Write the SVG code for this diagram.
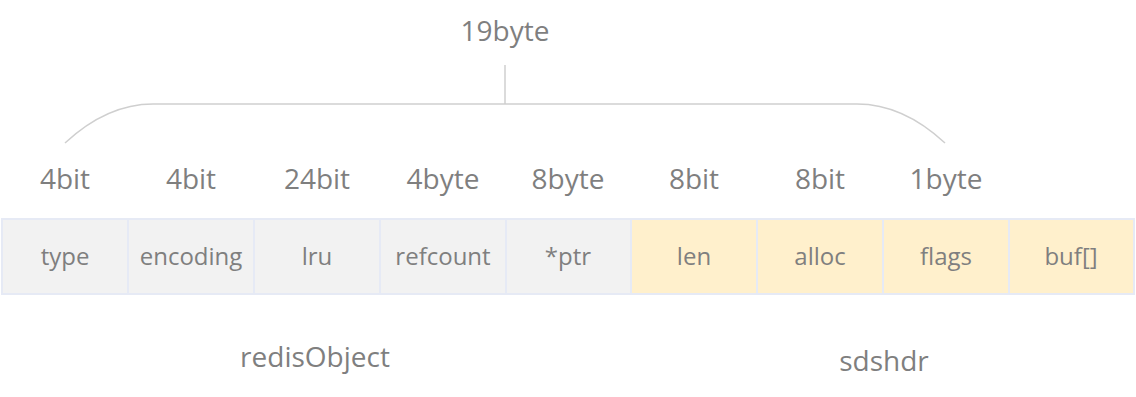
<svg xmlns="http://www.w3.org/2000/svg" width="1136" height="397" viewBox="0 0 1136 397">
  <style>
    text { font-family: "Open Sans", "Liberation Sans", sans-serif; fill: #7f7f7f; text-anchor: middle; }
    .cell-label { font-size: 24px; }
    .size { font-size: 28px; }
    .title { font-size: 28px; }
    .cell rect { stroke: #e6eaf5; stroke-width: 2; }
    .obj rect { fill: #f2f2f2; }
    .sds rect { fill: #fff0cc; }
    .brace { fill: none; stroke: #cfcfcf; stroke-width: 1.5; }
  </style>
  <rect width="1136" height="397" fill="#ffffff"/>

  <!-- total size brace -->
  <g id="brace">
    <text class="size" x="505" y="41">19byte</text>
    <path class="brace" d="M505 65 V104 M65 143 C92 118 120 104 153 104 H857 C890 104 918 118 945 143"/>
  </g>

  <!-- field sizes -->
  <g id="sizes">
    <text class="size" x="65" y="189">4bit</text>
    <text class="size" x="191" y="189">4bit</text>
    <text class="size" x="317" y="189">24bit</text>
    <text class="size" x="443" y="189">4byte</text>
    <text class="size" x="568" y="189">8byte</text>
    <text class="size" x="694" y="189">8bit</text>
    <text class="size" x="820" y="189">8bit</text>
    <text class="size" x="946" y="189">1byte</text>
  </g>

  <!-- redisObject fields -->
  <g id="field-type" class="cell obj"><rect x="2" y="219" width="126" height="75"/><text class="cell-label" x="65" y="265">type</text></g>
  <g id="field-encoding" class="cell obj"><rect x="128" y="219" width="126" height="75"/><text class="cell-label" x="191" y="265">encoding</text></g>
  <g id="field-lru" class="cell obj"><rect x="254" y="219" width="126" height="75"/><text class="cell-label" x="317" y="265">lru</text></g>
  <g id="field-refcount" class="cell obj"><rect x="380" y="219" width="126" height="75"/><text class="cell-label" x="443" y="265">refcount</text></g>
  <g id="field-ptr" class="cell obj"><rect x="506" y="219" width="125" height="75"/><text class="cell-label" x="568" y="265">*ptr</text></g>

  <!-- sdshdr fields -->
  <g id="field-len" class="cell sds"><rect x="631" y="219" width="126" height="75"/><text class="cell-label" x="694" y="265">len</text></g>
  <g id="field-alloc" class="cell sds"><rect x="757" y="219" width="126" height="75"/><text class="cell-label" x="820" y="265">alloc</text></g>
  <g id="field-flags" class="cell sds"><rect x="883" y="219" width="126" height="75"/><text class="cell-label" x="946" y="265">flags</text></g>
  <g id="field-buf" class="cell sds"><rect x="1009" y="219" width="125" height="75"/><text class="cell-label" x="1071" y="265">buf[]</text></g>

  <!-- struct names -->
  <text class="title" x="315" y="367">redisObject</text>
  <text class="title" x="884" y="371">sdshdr</text>
</svg>
